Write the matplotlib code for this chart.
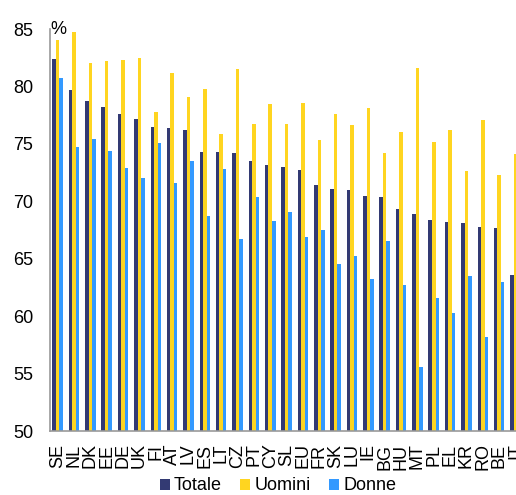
import matplotlib.pyplot as plt
import numpy as np

plt.rcParams['font.family'] = ['Liberation Sans', 'DejaVu Sans']

# Tasso di occupazione per paese (%)
paesi = ['SE', 'NL', 'DK', 'EE', 'DE', 'UK', 'FI', 'AT', 'LV', 'ES', 'LT', 'CZ', 'PT', 'CY', 'SL',
         'EU', 'FR', 'SK', 'LU', 'IE', 'BG', 'HU', 'MT', 'PL', 'EL', 'KR', 'RO', 'BE', 'IT']
totale = [82.4, 79.7, 78.7, 78.2, 77.6, 77.2, 76.5, 76.4, 76.2, 74.3, 74.3, 74.2, 73.5, 73.2, 73.0,
          72.7, 71.4, 71.1, 71.0, 70.5, 70.4, 69.3, 68.9, 68.4, 68.2, 68.1, 67.8, 67.7, 63.6]
uomini = [84.0, 84.7, 82.0, 82.2, 82.3, 82.5, 77.8, 81.2, 79.1, 79.8, 75.9, 81.5, 76.7, 78.5, 76.7,
          78.6, 75.3, 77.6, 76.6, 78.1, 74.2, 76.0, 81.6, 75.2, 76.2, 72.6, 77.1, 72.3, 74.1]
donne = [80.7, 74.7, 75.4, 74.4, 72.9, 72.0, 75.1, 71.6, 73.5, 68.7, 72.8, 66.7, 70.4, 68.3, 69.1,
         66.9, 67.5, 64.5, 65.2, 63.2, 66.5, 62.7, 55.6, 61.6, 60.3, 63.5, 58.2, 63.0, 53.3]

x = np.arange(len(paesi))
w = 0.215

fig = plt.figure(figsize=(5.16, 4.95), dpi=100)
ax = fig.add_axes([50 / 516, 1 - 431 / 495, 1 - 50 / 516, (431 - 29) / 495])

ax.bar(x - w, totale, w, color='#333A73', label='Totale')
ax.bar(x, uomini, w, color='#FFD520', label='Uomini')
ax.bar(x + w, donne, w, color='#3399FF', label='Donne')

ax.set_ylim(50, 85)
ax.set_xlim(-0.47, 28.03)
ax.set_yticks(range(50, 86, 5))
ax.set_xticks(x)
ax.set_xticklabels(paesi, rotation=90)
ax.tick_params(axis='y', length=0, pad=12, labelsize=13)
ax.tick_params(axis='x', length=0, pad=9, labelsize=13)

for s in ['top', 'right']:
    ax.spines[s].set_visible(False)
for s in ['left', 'bottom']:
    ax.spines[s].set_color('#999999')
    ax.spines[s].set_linewidth(1.2)

# unità di misura in alto a sinistra
ax.text(0.0, 1.0, '%', fontsize=13, ha='left', va='center', transform=ax.transAxes)

fig.legend(loc='center', bbox_to_anchor=(278 / 516, 1 - 486 / 495), ncol=3, frameon=False,
           fontsize=13, handlelength=0.55, handleheight=0.55, handletextpad=0.25,
           columnspacing=1.0, borderpad=0, borderaxespad=0)

fig.savefig('out.png', dpi=100)
